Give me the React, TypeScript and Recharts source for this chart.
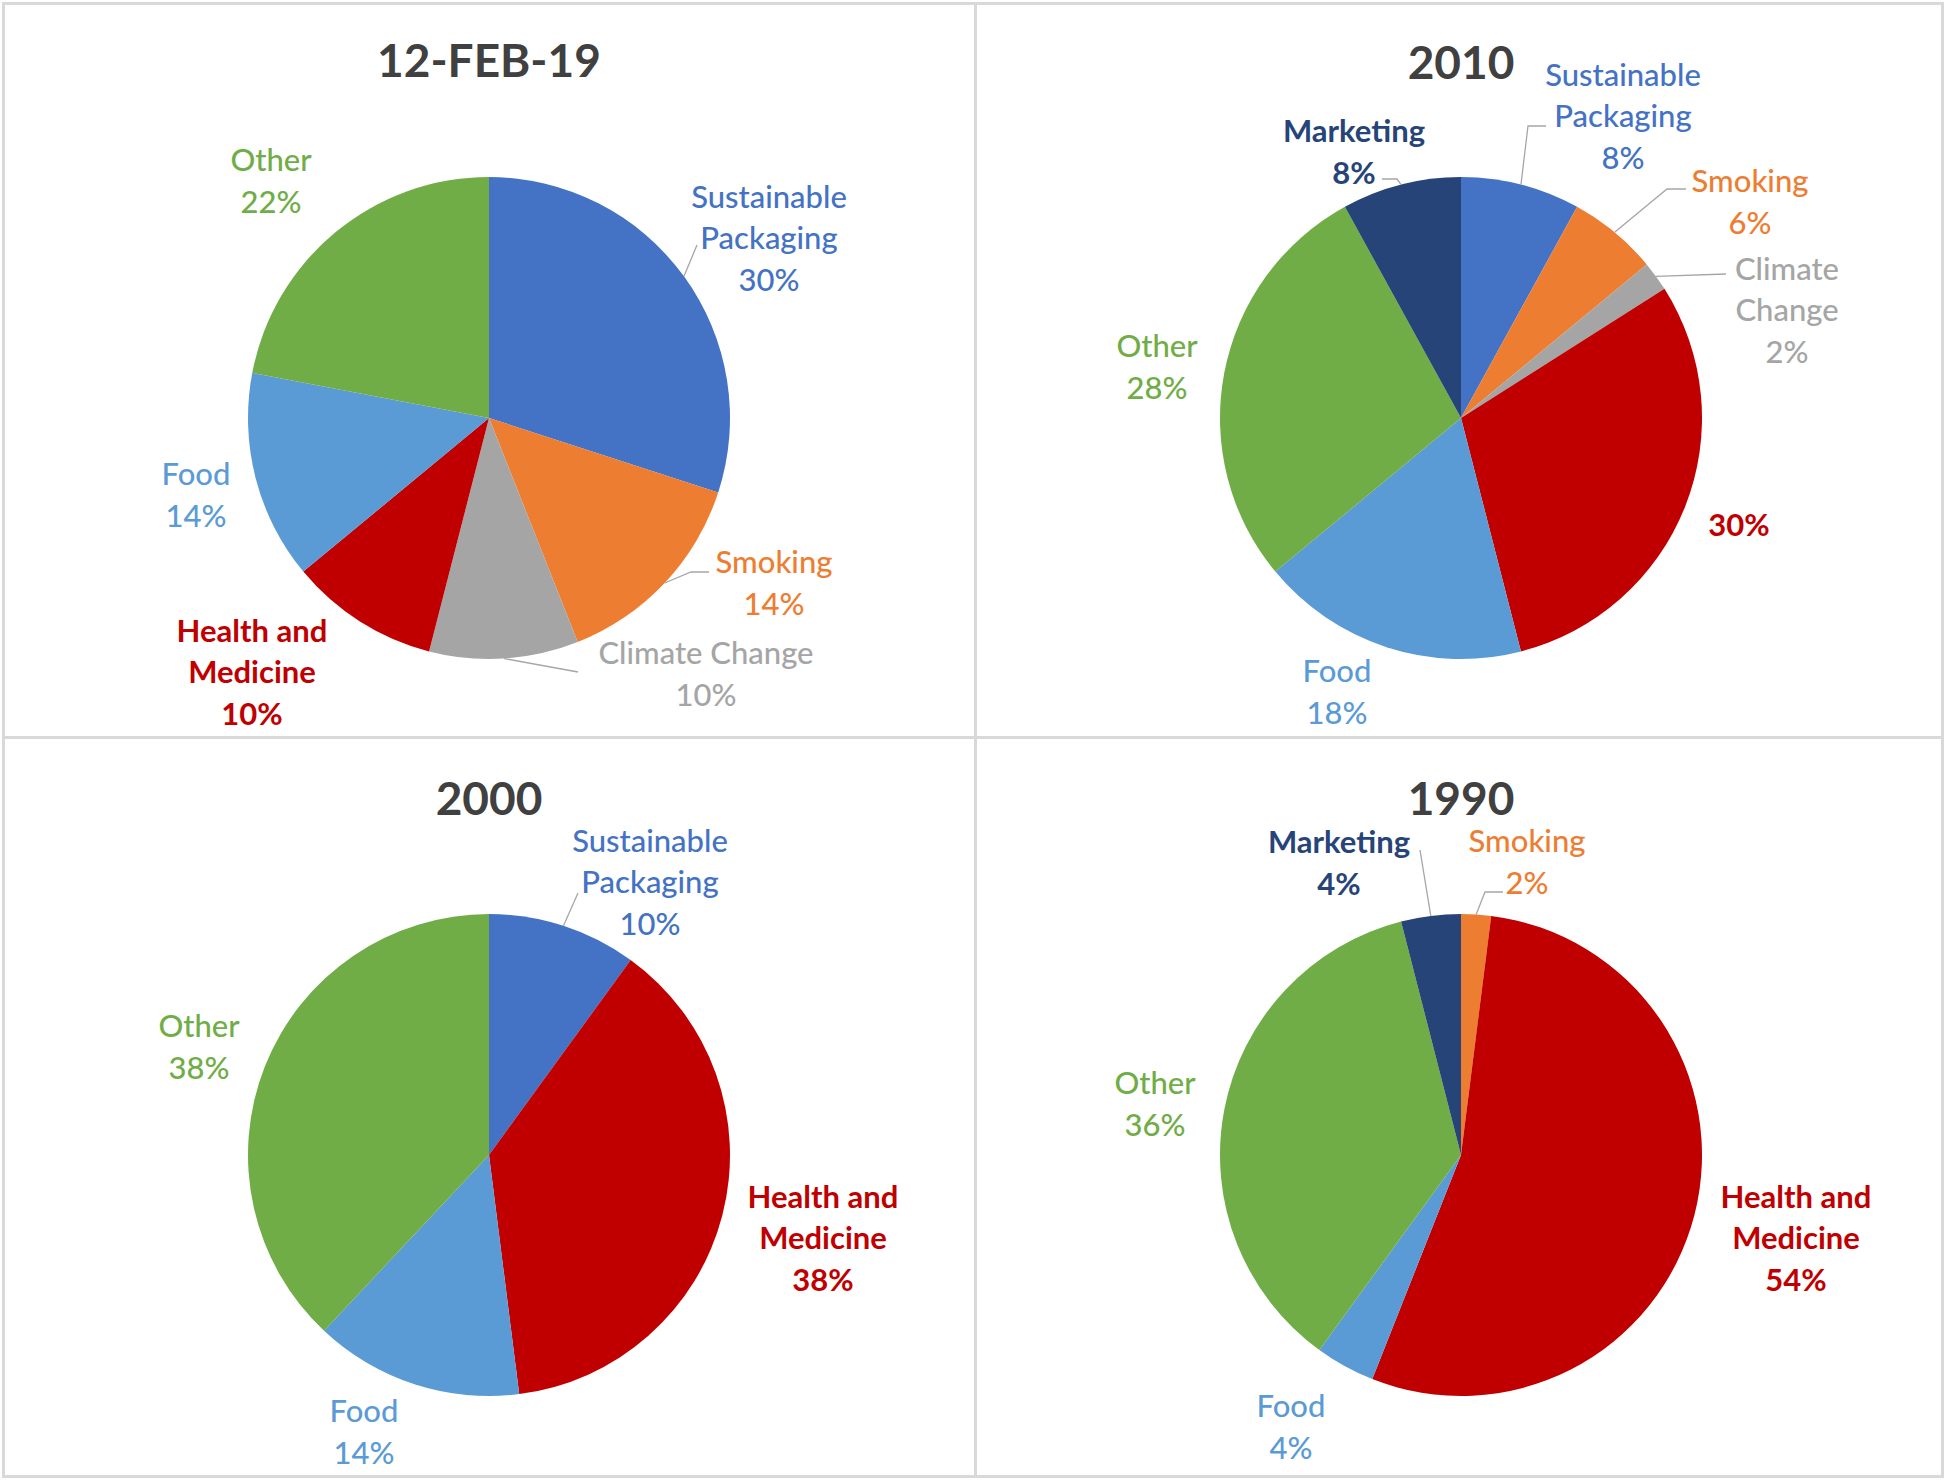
import React from 'react';
import { PieChart, Pie, Cell } from 'recharts';

const COLORS: Record<string, string> = {
  'Sustainable Packaging': '#4472C4',
  Smoking: '#ED7D31',
  'Climate Change': '#A5A5A5',
  'Health and Medicine': '#C00000',
  Food: '#5B9BD5',
  Other: '#70AD47',
  Marketing: '#264478',
};

const CATS_2019 = ['Sustainable Packaging', 'Smoking', 'Climate Change', 'Health and Medicine', 'Food', 'Other'];
const VALS_2019 = [30, 14, 10, 10, 14, 22];
const CATS_2010 = ['Sustainable Packaging', 'Smoking', 'Climate Change', 'Health and Medicine', 'Food', 'Other', 'Marketing'];
const VALS_2010 = [8, 6, 2, 30, 18, 28, 8];
const CATS_2000 = ['Sustainable Packaging', 'Health and Medicine', 'Food', 'Other'];
const VALS_2000 = [10, 38, 14, 38];
const CATS_1990 = ['Smoking', 'Health and Medicine', 'Food', 'Other', 'Marketing'];
const VALS_1990 = [2, 54, 4, 36, 4];
const TITLES = ['12-FEB-19', '2010', '2000', '1990'];

type LabelLayout = { x: number; y: number; lines?: string[]; leader?: number[][] };

const LAYOUT_2019: Record<string, LabelLayout> = {
  'Sustainable Packaging': { x: 280, y: -181, lines: ['Sustainable', 'Packaging'], leader: [[208, -173]] },
  Smoking: { x: 285, y: 164, leader: [[202, 154], [220, 154]] },
  'Climate Change': { x: 217, y: 255, lines: ['Climate Change'], leader: [[89, 254]] },
  'Health and Medicine': { x: -237, y: 253, lines: ['Health and', 'Medicine'] },
  Food: { x: -293, y: 76 },
  Other: { x: -218, y: -238 },
};
const LAYOUT_2010: Record<string, LabelLayout> = {
  'Sustainable Packaging': { x: 162, y: -303, lines: ['Sustainable', 'Packaging'], leader: [[67, -292], [85, -292]] },
  Smoking: { x: 289, y: -217, leader: [[206, -229], [225, -229]] },
  'Climate Change': { x: 326, y: -109, lines: ['Climate', 'Change'], leader: [[265, -144]] },
  'Health and Medicine': { x: 278, y: 106, lines: [] },
  Food: { x: -124, y: 273 },
  Other: { x: -304, y: -52 },
  Marketing: { x: -107, y: -267, leader: [[-64, -239], [-79, -239]] },
};
const LAYOUT_2000: Record<string, LabelLayout> = {
  'Sustainable Packaging': { x: 161, y: -274, lines: ['Sustainable', 'Packaging'], leader: [[89, -262]] },
  'Health and Medicine': { x: 334, y: 82, lines: ['Health and', 'Medicine'] },
  Food: { x: -125, y: 276 },
  Other: { x: -290, y: -109 },
};
const LAYOUT_1990: Record<string, LabelLayout> = {
  Smoking: { x: 66, y: -294, leader: [[24, -263], [42, -263]] },
  'Health and Medicine': { x: 335, y: 82, lines: ['Health and', 'Medicine'] },
  Food: { x: -170, y: 271 },
  Other: { x: -306, y: -52 },
  Marketing: { x: -122, y: -293, leader: [[-41, -305]] },
};

const BOLD = new Set(['Health and Medicine', 'Marketing']);
const FONT = 'Lato, "Open Sans", sans-serif';
const LINE_H = 41.5;
const RADIUS = 241;
const RAD = Math.PI / 180;

function makeLabel(cats: string[], layout: Record<string, LabelLayout>) {
  return (props: any) => {
    const { cx, cy, midAngle, outerRadius, percent, index } = props;
    const name = cats[index];
    const L = layout[name];
    if (!L) return null;
    const lines = [...(L.lines ?? [name]), `${Math.round(percent * 100)}%`];
    const n = lines.length;
    const color = COLORS[name];
    const sx = cx + outerRadius * Math.cos(-midAngle * RAD);
    const sy = cy + outerRadius * Math.sin(-midAngle * RAD);
    let pts = '';
    if (L.leader) {
      pts = [[sx, sy], ...L.leader.map((p) => [cx + p[0], cy + p[1]])].map((p) => p.join(',')).join(' ');
    }
    return (
      <g>
        {L.leader && <polyline points={pts} fill="none" stroke="#A6A6A6" strokeWidth={1.3} />}
        {lines.map((t, i) => (
          <text
            key={i}
            x={cx + L.x}
            y={cy + L.y + (i - (n - 1) / 2) * LINE_H}
            textAnchor="middle"
            dominantBaseline="central"
            fill={color}
            fontFamily={FONT}
            fontSize={31}
            fontWeight={BOLD.has(name) ? 700 : 500}
          >
            {t}
          </text>
        ))}
      </g>
    );
  };
}

const PANELS = [
  { left: 0, top: 0, cx: 489, cats: CATS_2019, vals: VALS_2019, layout: LAYOUT_2019, titleY: 60 },
  { left: 975, top: 0, cx: 486, cats: CATS_2010, vals: VALS_2010, layout: LAYOUT_2010, titleY: 62 },
  { left: 0, top: 737, cx: 489, cats: CATS_2000, vals: VALS_2000, layout: LAYOUT_2000, titleY: 61 },
  { left: 975, top: 737, cx: 486, cats: CATS_1990, vals: VALS_1990, layout: LAYOUT_1990, titleY: 61 },
];

export default function App() {
  return (
    <div style={{ position: 'absolute', left: 0, top: 0, width: 1946, height: 1480, background: '#fff', overflow: 'hidden' }}>
      {PANELS.map((p, k) => {
        const data = p.cats.map((c, i) => ({ name: c, value: p.vals[i] }));
        return (
          <div key={k} style={{ position: 'absolute', left: p.left, top: p.top, width: 972, height: 740 }}>
            <PieChart width={972} height={740} margin={{ top: 0, right: 0, bottom: 0, left: 0 }}>
              <Pie
                data={data}
                dataKey="value"
                nameKey="name"
                cx={p.cx}
                cy={418}
                outerRadius={RADIUS}
                startAngle={90}
                endAngle={-270}
                stroke="none"
                labelLine={false}
                label={makeLabel(p.cats, p.layout)}
                isAnimationActive={false}
              >
                {data.map((d) => (
                  <Cell key={d.name} fill={COLORS[d.name]} stroke="none" />
                ))}
              </Pie>
            </PieChart>
            <div
              style={{
                position: 'absolute',
                left: p.cx - 200,
                width: 400,
                top: p.titleY - 30,
                height: 60,
                lineHeight: '60px',
                textAlign: 'center',
                fontFamily: FONT,
                fontSize: 46,
                fontWeight: 700,
                color: '#404040',
              }}
            >
              {TITLES[k]}
            </div>
          </div>
        );
      })}
      <div style={{ position: 'absolute', left: 2, top: 2, width: 1942, height: 1476, border: '3px solid #D9D9D9', boxSizing: 'border-box' }} />
      <div style={{ position: 'absolute', left: 974, top: 2, width: 3, height: 1476, background: '#D9D9D9' }} />
      <div style={{ position: 'absolute', left: 2, top: 736, width: 1942, height: 3, background: '#D9D9D9' }} />
    </div>
  );
}
